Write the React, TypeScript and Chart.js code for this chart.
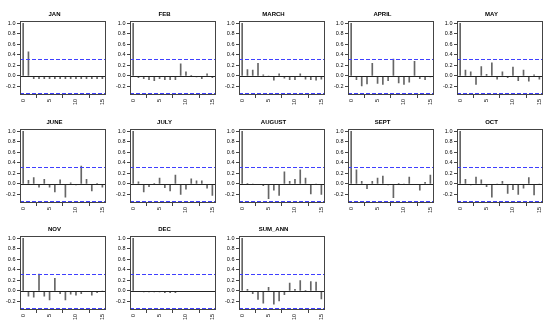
import React, { useEffect, useRef } from "react";
import { Chart, registerables } from "chart.js";
Chart.register(...registerables);

const lags = [0, 1, 2, 3, 4, 5, 6, 7, 8, 9, 10, 11, 12, 13, 14, 15];
const titles = ["JAN", "FEB", "MARCH", "APRIL", "MAY", "JUNE", "JULY", "AUGUST", "SEPT", "OCT", "NOV", "DEC", "SUM_ANN"];

const jan = [1, 0.46, -0.05, -0.05, -0.05, -0.05, -0.05, -0.05, -0.05, -0.05, -0.05, -0.05, -0.05, -0.05, -0.05, -0.05];
const feb = [1, -0.03, -0.05, -0.07, -0.09, -0.05, -0.07, -0.07, -0.07, 0.23, 0.08, 0.01, -0.02, -0.05, 0.04, -0.03];
const march = [1, 0.12, 0.11, 0.24, 0.02, 0.0, -0.08, 0.04, -0.04, -0.07, -0.07, 0.04, -0.06, -0.07, -0.08, -0.06];
const april = [1, -0.07, -0.19, -0.15, 0.24, -0.14, -0.16, -0.09, 0.32, -0.13, -0.16, -0.12, 0.28, -0.05, -0.07, -0.02];
const may = [1, 0.11, 0.08, -0.16, 0.18, 0.03, 0.25, -0.06, 0.08, -0.03, 0.17, -0.09, 0.11, -0.1, 0.02, -0.06];
const june = [1, 0.07, 0.12, -0.06, 0.09, -0.06, -0.15, 0.08, -0.25, 0.02, -0.02, 0.34, 0.09, -0.13, 0.01, -0.06];
const july = [1, 0.04, -0.15, -0.05, 0.01, 0.11, -0.07, -0.13, 0.17, -0.2, -0.1, 0.1, 0.06, 0.06, -0.08, -0.22];
const august = [1, 0.01, 0.0, -0.01, -0.03, -0.28, -0.12, -0.22, 0.23, 0.05, 0.09, 0.27, 0.11, -0.19, 0.0, -0.2];
const sept = [1, 0.27, 0.05, -0.09, 0.05, 0.11, 0.15, -0.02, -0.26, 0.01, 0.0, 0.13, -0.01, -0.12, 0.03, 0.17];
const oct = [1, 0.09, -0.02, 0.13, 0.08, -0.05, -0.25, 0.0, 0.05, -0.18, -0.11, -0.2, -0.08, 0.12, -0.21, 0.0];
const nov = [1, -0.1, -0.12, 0.32, -0.1, -0.17, 0.24, -0.05, -0.17, -0.06, -0.08, -0.05, -0.01, -0.08, -0.03, 0.0];
const dec = [1, -0.01, -0.02, -0.02, -0.02, -0.02, -0.03, -0.03, -0.03, -0.01, -0.01, -0.01, -0.01, -0.01, -0.01, -0.01];
const sumAnn = [1, 0.03, -0.05, -0.16, -0.23, 0.07, -0.25, -0.19, -0.07, 0.15, 0.03, 0.2, 0.01, 0.18, 0.17, -0.15];

const series = [jan, feb, march, april, may, june, july, august, sept, oct, nov, dec, sumAnn];

const ciLimit = 0.315;
const yTicks = [-0.2, 0, 0.2, 0.4, 0.6, 0.8, 1.0];
const xTicks = [0, 5, 10, 15];
const yMin = -0.362;
const yMax = 1.052;
const xMin = -0.6;
const xMax = 15.6;

const colLefts = [0, 110, 219, 328, 437];
const rowTops = [0, 108, 215];

const FONT = "'Liberation Sans', Arial, sans-serif";

const framePlugin = {
  id: "acfFrame",
  afterDatasetsDraw(chart: any) {
    const { ctx, chartArea: a, scales } = chart;
    const y = scales.y;
    ctx.save();
    ctx.lineWidth = 1;
    const hline = (v: number, color: string, dash: number[]) => {
      const py = Math.round(y.getPixelForValue(v)) + 0.5;
      ctx.strokeStyle = color;
      ctx.setLineDash(dash);
      ctx.beginPath();
      ctx.moveTo(a.left, py);
      ctx.lineTo(a.right, py);
      ctx.stroke();
    };
    hline(0, "#222222", []);
    hline(ciLimit, "#3f3fff", [4, 2]);
    hline(-ciLimit, "#3f3fff", [4, 2]);
    ctx.setLineDash([]);
    ctx.strokeStyle = "#444444";
    const l = Math.round(a.left) + 0.5;
    const t = Math.round(a.top) + 0.5;
    const r = Math.round(a.right) - 0.5;
    const b = Math.round(a.bottom) - 0.5;
    ctx.strokeRect(l, t, r - l, b - t);
    ctx.restore();
  },
};

function Panel({ title, values, left, top }: { title: string; values: number[]; left: number; top: number }) {
  const ref = useRef<HTMLCanvasElement | null>(null);
  useEffect(() => {
    if (!ref.current) return;
    const chart = new Chart(ref.current, {
      type: "bar",
      data: {
        datasets: [
          {
            data: lags.map((lag, i) => ({ x: lag, y: values[i] })),
            backgroundColor: "#666",
            borderWidth: 0,
            barThickness: 1,
          } as any,
        ],
      },
      options: {
        responsive: false,
        animation: false,
        devicePixelRatio: 1,
        layout: { padding: { left: 0, right: 1, top: 0, bottom: 0 } },
        plugins: {
          legend: { display: false },
          tooltip: { enabled: false },
          title: {
            display: true,
            text: title,
            color: "#000",
            font: { family: FONT, size: 6, weight: "bold" },
            padding: { top: 11, bottom: 2.5 },
          },
        },
        scales: {
          x: {
            type: "linear",
            min: xMin,
            max: xMax,
            offset: false,
            afterBuildTicks: (axis: any) => {
              axis.ticks = xTicks.map((v) => ({ value: v }));
            },
            afterFit: (axis: any) => {
              axis.height = 13;
            },
            grid: { display: true, drawOnChartArea: false, drawTicks: true, tickLength: 3, color: "#444" },
            border: { display: false },
            ticks: {
              minRotation: 90,
              maxRotation: 90,
              padding: 1,
              color: "#000",
              font: { family: FONT, size: 5.5 },
              callback: (v: any) => String(v),
            },
          },
          y: {
            type: "linear",
            min: yMin,
            max: yMax,
            afterBuildTicks: (axis: any) => {
              axis.ticks = yTicks.map((v) => ({ value: v }));
            },
            afterFit: (axis: any) => {
              axis.width = 20;
            },
            grid: { display: true, drawOnChartArea: false, drawTicks: true, tickLength: 3, color: "#444" },
            border: { display: false },
            ticks: {
              padding: 1.5,
              color: "#000",
              font: { family: FONT, size: 5.5 },
              callback: (v: any) => Number(v).toFixed(1),
            },
          },
        },
      } as any,
      plugins: [framePlugin],
    });
    return () => chart.destroy();
  }, [title, values]);
  return (
    <canvas
      ref={ref}
      width={110}
      height={108}
      style={{ position: "absolute", left, top, width: 110, height: 108 }}
    />
  );
}

export default function App() {
  return (
    <div style={{ position: "absolute", left: 0, top: 0, width: 550, height: 325, background: "#fff" }}>
      {titles.map((t, i) => (
        <Panel
          key={t}
          title={t}
          values={series[i]}
          left={colLefts[i % 5]}
          top={rowTops[Math.floor(i / 5)]}
        />
      ))}
    </div>
  );
}
